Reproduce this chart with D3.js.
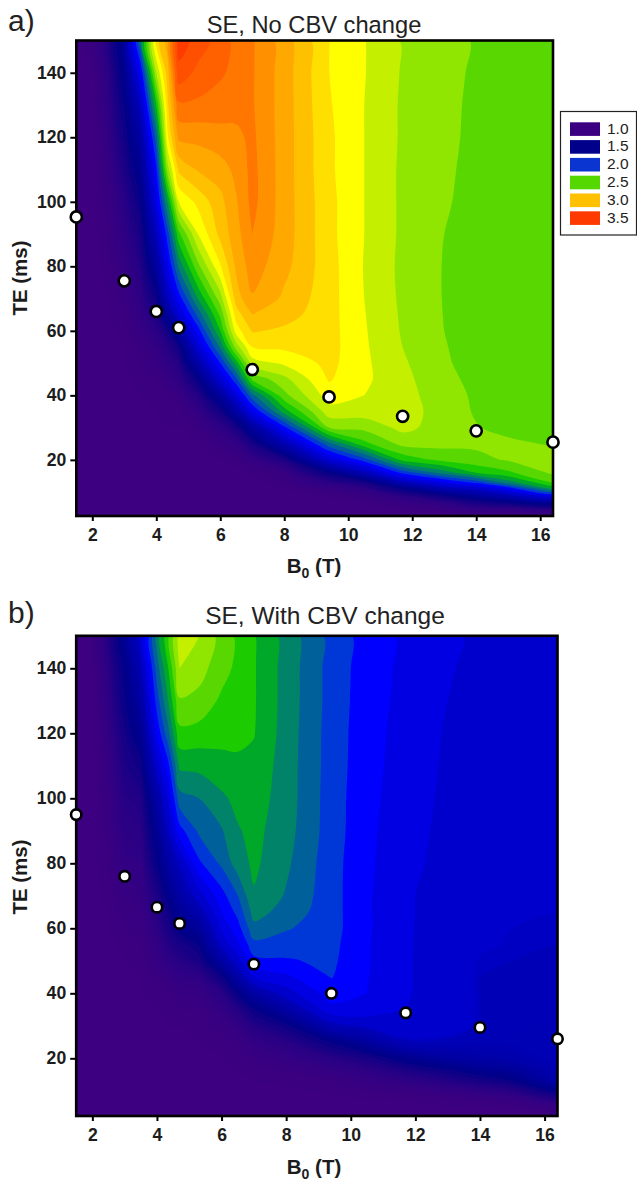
<!DOCTYPE html>
<html><head><meta charset="utf-8">
<script src="https://cdn.jsdelivr.net/npm/d3@7"></script>
<style>html,body{margin:0;background:#fff}svg{display:block}text{font-family:"Liberation Sans",Arial,sans-serif}</style>
</head><body><div id="chart"></div>
<script>
// Grid axes of the parametric maps
const B0 = [1.5,2,2.5,3,3.5,4,4.35,4.7,5.3,6,6.5,7,8,9.4,10.5,11.7,13,14,15,16.4];
const TE = [150,140,130,120,110,100,90,80,70,65,60,55,50,45,40,35,30,25,20,16,13,11,9,7,5,3];
// Panel a: one list per B0 column, TE descending. Omitted trailing entries are 1.0
const a1_5=[1];
const a2=[1.02,1.01,1.01];
const a2_5=[1.15,1.12,1.10,1.08,1.06,1.04,1.03,1.02,1.01,1.01];
const a3=[1.38,1.33,1.28,1.23,1.18,1.13,1.10,1.07,1.04,1.03,1.02,1.01,1.01];
const a3_5=[2.10,1.80,1.60,1.45,1.35,1.27,1.20,1.15,1.10,1.08,1.06,1.04,1.03,1.02,1.01];
const a4=[2.85,2.60,2.30,2.05,1.88,1.75,1.58,1.42,1.25,1.18,1.12,1.08,1.05,1.03,1.02,1.01];
const a4_35=[3.05,2.95,2.87,2.78,2.55,2.20,1.95,1.78,1.58,1.40,1.22,1.14,1.10,1.06,1.03,1.02,1.01];
const a4_7=[3.55,3.47,3.28,3.12,2.92,2.70,2.37,2.12,1.84,1.68,1.45,1.24,1.15,1.10,1.05,1.02,1.01];
const a5_3=[3.46,3.37,3.28,3.13,3.01,2.83,2.70,2.47,2.20,2.03,1.85,1.68,1.48,1.28,1.15,1.08,1.04,1.01];
const a6=[3.35,3.32,3.24,3.17,3.05,2.97,2.93,2.79,2.55,2.42,2.30,2.12,1.90,1.68,1.42,1.22,1.10,1.05,1.01];
const a6_5=[3.27,3.26,3.23,3.18,3.13,3.09,3.06,3.02,2.95,2.85,2.75,2.55,2.25,1.98,1.72,1.45,1.20,1.08,1.03];
const a7=[3.21,3.21,3.21,3.22,3.23,3.23,3.20,3.15,3.09,3.00,2.91,2.80,2.65,2.42,2.07,1.78,1.42,1.20,1.07,1.02];
const a8=[3.05,3.05,3.05,3.05,3.05,3.05,3.05,3.03,2.98,2.94,2.88,2.82,2.72,2.57,2.47,2.25,1.87,1.52,1.18,1.05,1.03,1.01];
const a9_4=[2.801,2.801,2.81,2.82,2.82,2.83,2.83,2.84,2.84,2.84,2.84,2.84,2.83,2.81,2.75,2.66,2.50,2.07,1.68,1.28,1.12,1.05,1.02];
const a10_5=[2.705,2.705,2.70,2.70,2.70,2.70,2.70,2.695,2.70,2.705,2.71,2.715,2.72,2.72,2.70,2.65,2.53,2.37,1.95,1.55,1.20,1.10,1.05,1.02];
const a11_7=[2.59,2.59,2.585,2.585,2.58,2.58,2.58,2.575,2.58,2.585,2.59,2.60,2.615,2.63,2.64,2.65,2.63,2.53,2.33,1.93,1.55,1.28,1.13,1.06,1.02];
const a13=[2.54,2.53,2.525,2.52,2.515,2.51,2.50,2.495,2.495,2.497,2.50,2.505,2.51,2.525,2.54,2.55,2.55,2.53,2.43,2.15,1.78,1.52,1.28,1.12,1.05,1.01];
const a14=[2.49,2.485,2.48,2.48,2.475,2.47,2.465,2.46,2.46,2.46,2.46,2.465,2.47,2.475,2.485,2.49,2.505,2.52,2.47,2.30,1.93,1.62,1.42,1.22,1.10,1.02];
const a15=[2.46,2.46,2.45,2.45,2.45,2.45,2.44,2.44,2.44,2.44,2.44,2.44,2.445,2.45,2.45,2.46,2.47,2.52,2.51,2.38,2.15,1.82,1.55,1.30,1.10,1.02];
const a16_4=[2.42,2.42,2.42,2.42,2.42,2.42,2.42,2.42,2.42,2.42,2.42,2.42,2.42,2.42,2.42,2.44,2.46,2.49,2.54,2.52,2.40,2.20,1.82,1.40,1.14,1.03];
const noChange=[a1_5,a2,a2_5,a3,a3_5,a4,a4_35,a4_7,a5_3,a6,a6_5,a7,a8,a9_4,a10_5,a11_7,a13,a14,a15,a16_4];
// Panel b
const b1_5=[1];
const b2=[1.01,1.01];
const b2_5=[1.15,1.12,1.10,1.08,1.06,1.05,1.04,1.03,1.02,1.01,1.01];
const b3=[1.35,1.30,1.27,1.22,1.18,1.14,1.11,1.08,1.05,1.04,1.03,1.02,1.01];
const b3_5=[1.65,1.55,1.45,1.35,1.25,1.17,1.13,1.09,1.07,1.05,1.04,1.03,1.02,1.01,1.01];
const b4=[2.15,2.05,1.95,1.82,1.65,1.47,1.36,1.28,1.18,1.14,1.11,1.08,1.06,1.04,1.02,1.01];
const b4_35=[2.38,2.30,2.20,2.07,1.87,1.72,1.60,1.45,1.32,1.25,1.20,1.15,1.10,1.06,1.03,1.02,1.01];
const b4_7=[2.65,2.60,2.49,2.37,2.22,2.06,1.86,1.60,1.45,1.37,1.30,1.20,1.14,1.09,1.05,1.03,1.01];
const b5_3=[2.60,2.54,2.47,2.36,2.23,2.10,2.02,1.88,1.65,1.52,1.40,1.28,1.20,1.10,1.06,1.03,1.02,1.01];
const b6=[2.46,2.44,2.38,2.33,2.27,2.18,2.09,2.02,1.86,1.80,1.72,1.62,1.45,1.25,1.13,1.08,1.04,1.02,1.01];
const b6_5=[2.38,2.375,2.37,2.34,2.27,2.23,2.19,2.15,2.00,1.93,1.86,1.78,1.65,1.48,1.28,1.15,1.08,1.04,1.02,1.01];
const b7=[2.31,2.31,2.31,2.305,2.275,2.25,2.23,2.22,2.19,2.14,2.07,1.97,1.87,1.70,1.45,1.27,1.15,1.08,1.04,1.02,1.01];
const b8=[2.16,2.16,2.16,2.155,2.15,2.15,2.14,2.12,2.09,2.06,2.01,1.95,1.89,1.78,1.65,1.45,1.25,1.13,1.07,1.03,1.02,1.01];
const b9_4=[1.965,1.96,1.96,1.955,1.955,1.95,1.95,1.94,1.94,1.94,1.94,1.93,1.92,1.905,1.85,1.77,1.55,1.28,1.13,1.07,1.03,1.02,1.01];
const b10_5=[1.855,1.85,1.845,1.84,1.835,1.83,1.825,1.82,1.815,1.815,1.815,1.81,1.81,1.805,1.80,1.76,1.62,1.42,1.20,1.10,1.06,1.04,1.02,1.01];
const b11_7=[1.78,1.775,1.77,1.76,1.755,1.745,1.735,1.725,1.71,1.71,1.71,1.71,1.71,1.71,1.71,1.70,1.66,1.58,1.33,1.17,1.10,1.06,1.03,1.01];
const b13=[1.71,1.705,1.70,1.69,1.685,1.68,1.675,1.67,1.665,1.665,1.66,1.655,1.65,1.65,1.645,1.64,1.63,1.58,1.43,1.25,1.15,1.09,1.05,1.02,1.01];
const b14=[1.69,1.685,1.68,1.675,1.67,1.665,1.66,1.655,1.65,1.65,1.645,1.61,1.595,1.59,1.59,1.59,1.59,1.56,1.47,1.33,1.20,1.13,1.07,1.03,1.01];
const b15=[1.665,1.66,1.655,1.65,1.645,1.64,1.635,1.63,1.62,1.61,1.60,1.595,1.59,1.585,1.58,1.58,1.58,1.56,1.50,1.38,1.27,1.17,1.10,1.05,1.02];
const b16_4=[1.645,1.64,1.635,1.63,1.625,1.62,1.615,1.61,1.605,1.60,1.599,1.59,1.58,1.575,1.57,1.57,1.56,1.55,1.57,1.53,1.48,1.37,1.24,1.12,1.05,1.02];
const withChange=[b1_5,b2,b2_5,b3,b3_5,b4,b4_35,b4_7,b5_3,b6,b6_5,b7,b8,b9_4,b10_5,b11_7,b13,b14,b15,b16_4];
// Markers
const dotB0=[1.5,3,4,4.7,7,9.4,11.7,14,16.4];
const dotTEa=[95.3,75.5,66,61,48,39.5,33.5,29,25.5];
const dotTEb=[95,76,66.5,61.5,49,40,34,29.5,26];
// Legend and colour stops
const legendLabels=["1.0","1.5","2.0","2.5","3.0","3.5"];
const legendColors=["#3b0082","#00008b","#0a35d0","#55d800","#ffc000","#ff3a00"];
const stopValues=[1.0,1.1,1.2,1.3,1.4,1.5,1.58,1.6,1.7,1.8,1.9,2.0,2.1,2.2,2.3,2.4,2.5,2.6,2.7,2.8,2.9,3.0,3.1,3.2,3.3,3.4,3.5];
const stopColors=["#3d0080","#2d0084","#150086","#00008a","#00009c","#0000ae","#0000b8","#0000cc","#0000e2","#0000ff","#0038d8","#00609a","#008368","#00a82a","#1fcc00","#58d800","#90e600","#c4f000","#ffff00","#ffdf00","#ffc000","#ffa800","#ff9000","#ff7600","#ff6000","#ff4f00","#ff3a00"];
const xTicks=[2,4,6,8,10,12,14,16];
const yTicks=[20,40,60,80,100,120,140];

const color=d3.scaleLinear().domain(stopValues).range(stopColors).clamp(true);
const thresholds=[...d3.range(0,30).map(i=>1.01+i*0.02),1.6,1.7,1.8,1.9,2.0,2.1,2.2,2.3,2.4,2.5,2.6,2.7,2.8,2.9,3.0,3.1,3.2,3.3,3.4,3.5];
const svg=d3.select("#chart").append("svg").attr("width",637).attr("height",1183);
svg.append("rect").attr("width",637).attr("height",1183).attr("fill","#fff");
svg.append("filter").attr("id","soft").append("feGaussianBlur").attr("stdDeviation",0.6);

// grid index -> data value; the outer half cell runs past the plot edge so that rings close outside the clip
function indexScale(vals,over){
  const n=vals.length;
  const dom=[0,...vals.map((_,i)=>i+0.5),n];
  const ran=[vals[0]+over[0],...vals,vals[n-1]+over[1]];
  return d3.scaleLinear().domain(dom).range(ran);
}
function panel(o){
  const x=d3.scaleLinear().domain([1.5,16.4]).range(o.xr);
  const y=d3.scaleLinear().domain(o.yd).range(o.yr);
  const g=svg.append("g");
  const clipId="clip"+o.tag;
  svg.append("clipPath").attr("id",clipId).append("rect")
    .attr("x",o.xr[0]).attr("y",o.yr[1]).attr("width",o.xr[1]-o.xr[0]).attr("height",o.yr[0]-o.yr[1]);
  const plot=g.append("g").attr("clip-path",`url(#${clipId})`).append("g").attr("filter","url(#soft)");
  plot.append("rect").attr("x",o.xr[0]-8).attr("y",o.yr[1]-8).attr("width",o.xr[1]-o.xr[0]+16).attr("height",o.yr[0]-o.yr[1]+16).attr("fill",color(1));
  const n=B0.length,m=TE.length;
  const flat=[];
  for(let r=0;r<m;r++)for(let c=0;c<n;c++)flat.push(o.cols[c][r]??1);
  const contours=d3.contours().size([n,m]).thresholds(thresholds)(flat);
  const ub=indexScale(B0,[-0.4,0.4]),vt=indexScale(TE,[4,-6]);
  const ringLine=d3.line().curve(d3.curveCatmullRomClosed.alpha(0.5));
  const toPath=mp=>mp.coordinates.map(poly=>poly.map(ring=>{
    const pts=ring.slice(0,-1).map(([a,b])=>[x(ub(a)),y(vt(b))]);
    return ringLine(pts.filter((p,i)=>i===0||Math.hypot(p[0]-pts[i-1][0],p[1]-pts[i-1][1])>0.01));
  }).join("")).join("");
  plot.selectAll("path").data(contours).join("path").attr("d",toPath).attr("fill",d=>color(d.value));
  g.append("rect").attr("x",o.xr[0]).attr("y",o.yr[1]).attr("width",o.xr[1]-o.xr[0]).attr("height",o.yr[0]-o.yr[1]).attr("fill","none").attr("stroke","#000").attr("stroke-width",2.6);
  const ax=g.append("g").attr("transform",`translate(0,${o.yr[0]})`).call(d3.axisBottom(x).tickValues(xTicks).tickSize(5).tickPadding(8));
  const ay=g.append("g").attr("transform",`translate(${o.xr[0]},0)`).call(d3.axisLeft(y).tickValues(yTicks).tickSize(6).tickPadding(4));
  [ax,ay].forEach(a=>{a.select(".domain").remove();a.selectAll("line").attr("stroke","#000").attr("stroke-width",2);
    a.selectAll("text").attr("fill","#1c1c1c").attr("font-size",17.6).attr("font-weight","bold").style("font-family",'"Liberation Sans",Arial,sans-serif');});
  g.selectAll("circle").data(dotB0).join("circle").attr("cx",d=>x(d)).attr("cy",(d,i)=>y(o.dots[i])).attr("r",o.r).attr("fill","#fff").attr("stroke","#000").attr("stroke-width",2.6);
  g.append("text").attr("x",o.title[0]).attr("y",o.title[1]).attr("text-anchor","middle").attr("font-size",o.title[2]).attr("fill","#222").text(o.titleText);
  g.append("text").attr("x",8).attr("y",o.tagY).attr("font-size",30).attr("fill","#222").text(o.tag+")");
  g.append("text").attr("transform",`translate(27,${o.yLabel}) rotate(-90)`).attr("text-anchor","middle").attr("font-size",20.5).attr("font-weight","bold").attr("fill","#1c1c1c").text("TE (ms)");
  const xl=g.append("text").attr("x",o.xLabel[0]).attr("y",o.xLabel[1]).attr("text-anchor","middle").attr("font-size",20.5).attr("font-weight","bold").attr("fill","#1c1c1c");
  xl.append("tspan").text("B");
  xl.append("tspan").attr("dy",5).attr("font-size",14).text("0");
  xl.append("tspan").attr("dy",-5).text(" (T)");
}
panel({tag:"a",cols:noChange,xr:[76.3,553],yd:[2.6,150],yr:[516,40.5],dots:dotTEa,r:5.6,title:[314,33,23.7],titleText:"SE, No CBV change",tagY:31,yLabel:278,xLabel:[314,573]});
panel({tag:"b",cols:withChange,xr:[76.2,557.5],yd:[2.25,150],yr:[1116,635.8],dots:dotTEb,r:5.2,title:[325,624,24.5],titleText:"SE, With CBV change",tagY:623,yLabel:877,xLabel:[314,1174]});

// Legend
const leg=svg.append("g");
leg.append("rect").attr("x",560.5).attr("y",111.5).attr("width",76).attr("height",123.5).attr("fill","#fff").attr("stroke","#222").attr("stroke-width",1.2);
const rowY=d3.scaleBand().domain(legendLabels).range([122.3,225.2]).paddingInner(0.22).paddingOuter(0);
const rowsG=leg.selectAll("g").data(legendLabels).join("g");
rowsG.append("rect").attr("x",570).attr("y",d=>rowY(d)).attr("width",30).attr("height",13.6).attr("fill",(d,i)=>legendColors[i]);
rowsG.append("text").attr("x",607).attr("y",d=>rowY(d)+11.3).attr("font-size",15.5).attr("fill","#222").text(d=>d);
</script></body></html>
